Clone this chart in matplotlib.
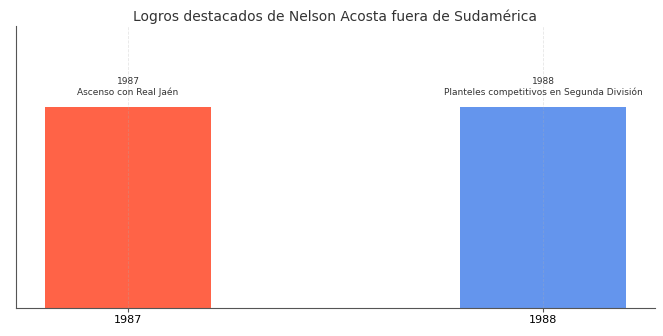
import matplotlib
matplotlib.use("Agg")
import matplotlib.pyplot as plt

years = ["1987", "1988"]
values = [1, 1]
achievements = ["Ascenso con Real Jaén", "Planteles competitivos en Segunda División"]
colors = ["#FF6347", "#6495ED"]

fig, ax = plt.subplots(figsize=(6.63, 3.36), dpi=100)
fig.subplots_adjust(left=0.024, right=0.988, top=0.922, bottom=0.083)
x = list(range(len(years)))
bars = ax.bar(x, values, width=0.4, color=colors)
for xi, v, y, a in zip(x, values, years, achievements):
    ax.text(xi, v + 0.05, f"{y}\n{a}", ha="center", va="bottom", fontsize=6.5, color="#333333")
ax.set_xticks(x)
ax.set_xticklabels(years, fontsize=8)
ax.tick_params(axis="x", pad=2, length=3, color="#555555")
ax.set_yticks([])
ax.set_ylim(0, 1.4)
ax.grid(axis="x", linestyle="--", alpha=0.3, linewidth=0.6)
ax.spines["top"].set_visible(False)
ax.spines["right"].set_visible(False)
ax.spines["left"].set_color("#555555")
ax.spines["bottom"].set_color("#555555")
ax.set_title("Logros destacados de Nelson Acosta fuera de Sudamérica", fontsize=10, color="#333333", pad=4)
fig.savefig("out.png", dpi=100)
